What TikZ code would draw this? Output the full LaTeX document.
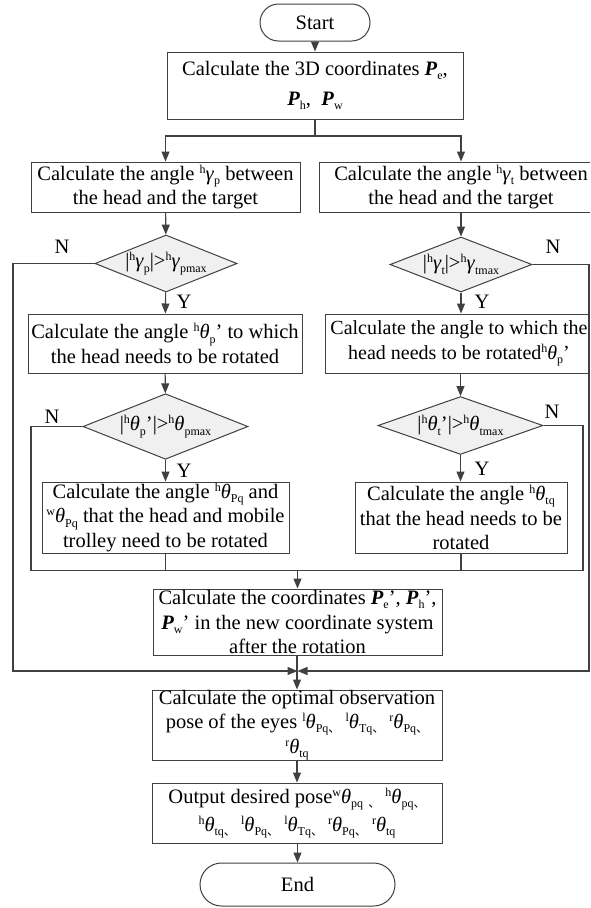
\documentclass[tikz,border=0pt]{standalone}
\usepackage{fontspec}
\setmainfont{Liberation Serif}
\newfontfamily\cjk{Noto Sans CJK SC}
\usetikzlibrary{shapes.geometric,arrows.meta}
\newcommand{\supx}[1]{\raisebox{0.75ex}{\fontsize{12}{12}\selectfont #1}}
\newcommand{\subx}[1]{\raisebox{-0.45ex}{\fontsize{12}{12}\selectfont #1}}
\newcommand{\gth}{\textit{θ}}
\newcommand{\ggm}{\textit{γ}}
\newcommand{\bP}{\textbf{\textit{P}}}
\newcommand{\dun}{{\cjk 、}}
\definecolor{lc}{HTML}{404040}
\definecolor{df}{HTML}{F0F0F0}
\tikzset{
  mainfont/.style={font=\fontsize{20.5}{24.5}\selectfont},
  box/.style={draw=lc, line width=1pt, fill=white, align=center, inner sep=0pt, mainfont},
  term/.style={box},
  dec/.style={diamond, draw=lc, fill=df, line width=1pt, inner sep=-12pt, align=center, mainfont},
  arr/.style={draw=lc, line width=1.1pt, -{Triangle[length=10pt,width=8pt]}},
  ln/.style={draw=lc, line width=1.1pt},
  lab/.style={mainfont, inner sep=0pt}
}
\begin{document}
\begin{tikzpicture}[x=1pt,y=-1pt]
\path[use as bounding box, clip] (0,0) rectangle (590,908);
\fill[white] (0,0) rectangle (590,908);

% nodes
\node[term, minimum width=110pt, minimum height=37pt, rounded corners=18.5pt] (start) at (315,22.5) {Start};
\node[box, minimum width=296pt, minimum height=67pt] (b1) at (315,85.5) {Calculate the 3D coordinates \bP\subx{e},\\[5pt] \bP\subx{h}, \ \bP\subx{w}};
\node[box, minimum width=269pt, minimum height=50pt] (l2) at (165.5,187) {Calculate the angle \supx{h}\ggm\subx{p} between\\the head and the target};
\node[box, minimum width=284pt, minimum height=50pt] (r2) at (461,187) {Calculate the angle \supx{h}\ggm\subx{t} between\\the head and the target};
\node[dec, minimum width=142pt, minimum height=57pt] (ld1) at (166,263.5) {|\supx{h}\ggm\subx{p}|>\supx{h}\ggm\subx{pmax}};
\node[dec, minimum width=142pt, minimum height=55pt] (rd1) at (461,264.5) {|\supx{h}\ggm\subx{t}|>\supx{h}\ggm\subx{tmax}};
\node[box, minimum width=274pt, minimum height=59pt] (l3) at (165,343.5) {Calculate the angle \supx{h}\gth\subx{p}' to which\\the head needs to be rotated};
\node[box, minimum width=268pt, minimum height=59pt, font=\fontsize{20}{24.5}\selectfont] (r3) at (459,343.5) {Calculate the angle to which the\\head needs to be rotated\supx{h}\gth\subx{p}'};
\node[dec, minimum width=165pt, minimum height=57pt] (ld2) at (165.5,426.5) {|\supx{h}\gth\subx{p}'|>\supx{h}\gth\subx{pmax}};
\node[dec, minimum width=165pt, minimum height=55pt] (rd2) at (460.5,425.5) {|\supx{h}\gth\subx{t}'|>\supx{h}\gth\subx{tmax}};
\node[box, minimum width=247pt, minimum height=71pt] (l4) at (165.5,517.5) {Calculate the angle \supx{h}\gth\subx{Pq} and\\\supx{w}\gth\subx{Pq} that the head and mobile\\trolley need to be rotated};
\node[box, minimum width=212pt, minimum height=71pt] (r4) at (461,517.5) {Calculate the angle \supx{h}\gth\subx{tq}\\that the head needs to be\\rotated};
\node[box, minimum width=289pt, minimum height=66pt] (b5) at (297.5,622) {Calculate the coordinates \bP\subx{e}', \bP\subx{h}',\\\bP\subx{w}' in the new coordinate system\\after the rotation};
\node[box, minimum width=290pt, minimum height=66pt] (b6) at (297,725) {Calculate the optimal observation\\pose of the eyes \supx{l}\gth\subx{Pq\dun} \supx{l}\gth\subx{Tq\dun} \supx{r}\gth\subx{Pq\dun}\\\supx{r}\gth\subx{tq}};
\node[box, minimum width=290pt, minimum height=60pt] (b7) at (297,813) {Output desired pose\supx{w}\gth\subx{pq} \subx{\dun} \supx{h}\gth\subx{pq\dun}\\[3pt]\supx{h}\gth\subx{tq\dun} \supx{l}\gth\subx{Pq\dun} \supx{l}\gth\subx{Tq\dun} \supx{r}\gth\subx{Pq\dun} \supx{r}\gth\subx{tq}};
\node[term, minimum width=195pt, minimum height=43pt, rounded corners=21.5pt] (end) at (297.5,884.5) {End};

% labels
\node[lab] (ny1) at (62,247) {N};
\node[lab] (ny2) at (553,247) {N};
\node[lab] (ny3) at (52,417) {N};
\node[lab] (ny4) at (552,412) {N};
\node[lab] (yy1) at (184,302) {Y};
\node[lab] (yy2) at (482,302) {Y};
\node[lab] (yy3) at (184,471) {Y};
\node[lab] (yy4) at (482,469) {Y};

% coordinates
\coordinate (split) at (315,136);
\coordinate (m1) at (297.5,570.5);
\coordinate (m2) at (297.5,671);
\coordinate (lo1) at (13,263.5);
\coordinate (lo2) at (13,671);
\coordinate (ro1) at (589,264.5);
\coordinate (ro2) at (589,671);
\coordinate (lo3) at (31,426.5);
\coordinate (lo4) at (31,570.5);
\coordinate (ro3) at (583,425.5);
\coordinate (ro4) at (583,570.5);

% connectors
\draw[arr] (start) -- (b1);
\draw[ln] (b1) -- (split);
\draw[arr] (split) -| (l2);
\draw[arr] (split) -| (r2);
\draw[arr] (l2) -- (ld1);
\draw[arr] (r2.south -| rd1.north) -- (rd1);
\draw[arr] (ld1) -- (l3);
\draw[arr] (rd1) -- (rd1 |- r3.north);
\draw[arr] (l3) -- (ld2);
\draw[arr] (rd2.north |- r3.south) -- (rd2);
\draw[arr] (ld2) -- (ld2 |- l4.north);
\draw[arr] (rd2) -- (rd2 |- r4.north);
\draw[ln] (ld2.west) -- (lo3) -- (lo4) -- (ro4) -- (ro3) -- (rd2.east);
\draw[ln] (l4.south) -- (l4.south |- m1);
\draw[ln] (r4.south) -- (r4.south |- m1);
\draw[arr] (m1) -- (m1 |- b5.north);
\draw[arr] (ld1.west) -- (lo1) -- (lo2) -- (m2);
\draw[arr] (rd1.east) -- (ro1) -- (ro2) -- (m2);
\draw[arr] (b5.south -| b6.north) -- (b6);
\draw[arr] (b6) -- (b7);
\draw[arr] (b7.south -| end.north) -- (end);
\end{tikzpicture}
\end{document}
